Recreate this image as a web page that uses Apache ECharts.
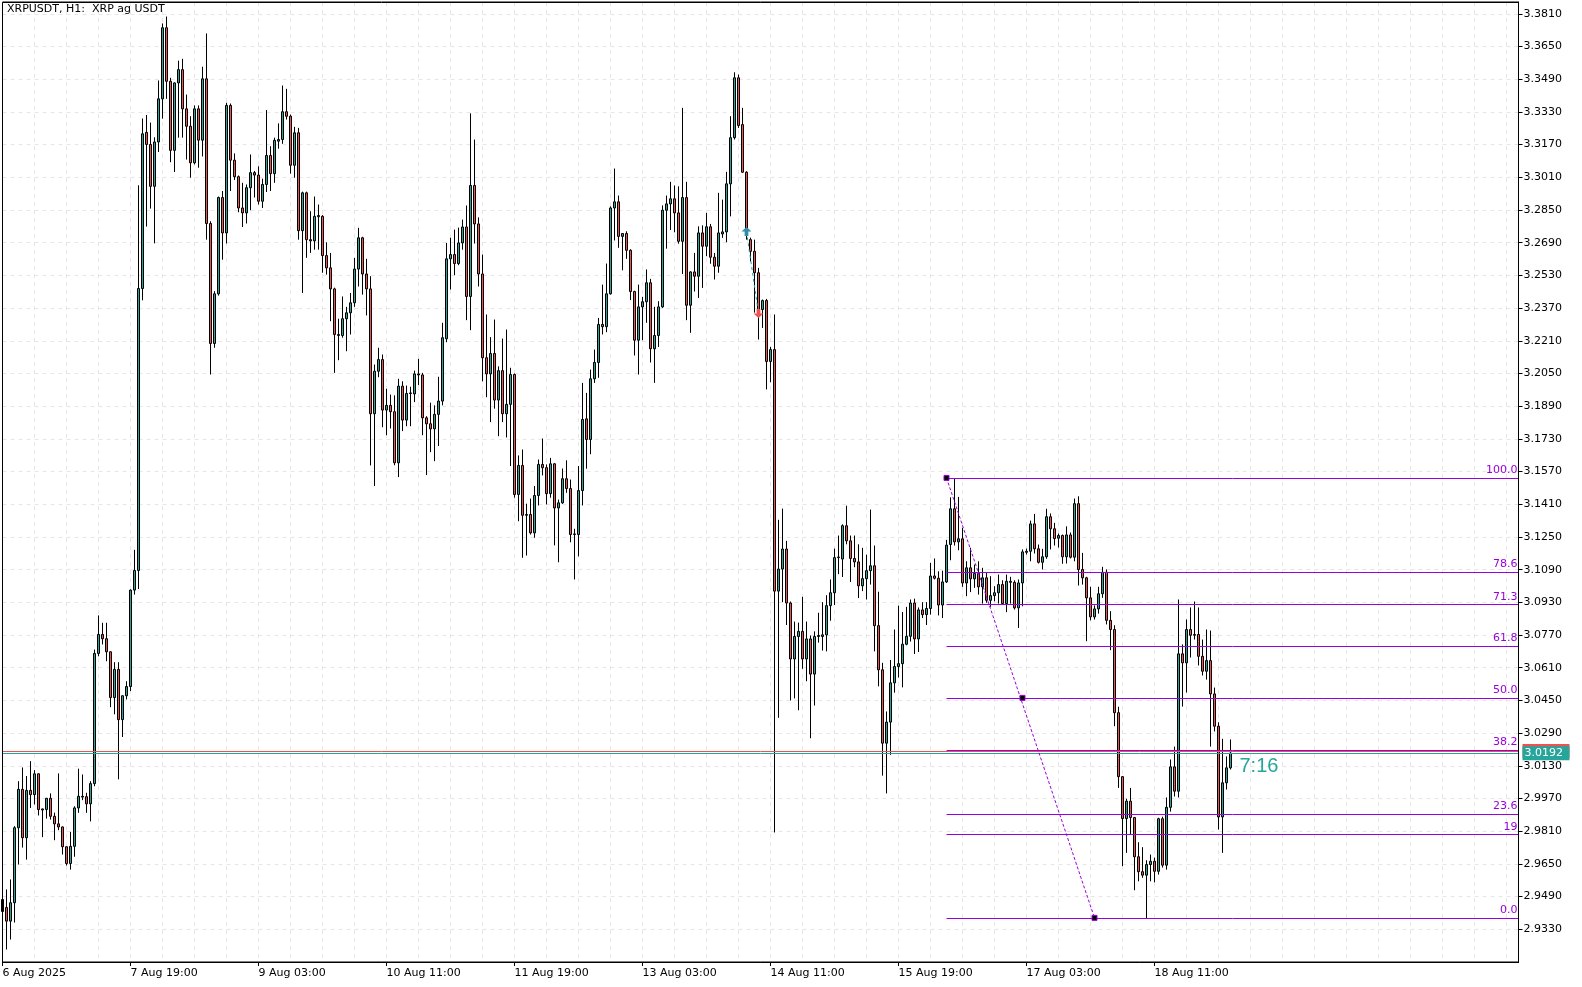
<!DOCTYPE html>
<html>
<head>
<meta charset="utf-8">
<script src="https://cdn.jsdelivr.net/npm/echarts@6/dist/echarts.min.js"></script>
<style>
html,body{margin:0;padding:0;background:#fff;}
#c{width:1582px;height:987px;}
</style>
</head>
<body>
<div id="c"></div>
<script>
// ---------------- data ----------------
const chartTitle = 'XRPUSDT, H1:  XRP ag USDT';
const timeTickLabels = ['6 Aug 2025','7 Aug 19:00','9 Aug 03:00','10 Aug 11:00','11 Aug 19:00','13 Aug 03:00','14 Aug 11:00','15 Aug 19:00','17 Aug 03:00','18 Aug 11:00'];
const barsPerTimeLabel = 32;
const barsPerGridLine = 8;
const totalSlots = 380;

const opens = [
2.9476,2.9437,2.9370,2.9460,2.9827,3.0015,2.9778,3.0010,2.9989,3.0091,
2.9919,2.9916,2.9971,2.9883,2.9846,2.9831,2.9734,2.9652,2.9736,2.9924,
2.9977,2.9979,2.9944,3.0043,3.0680,3.0773,3.0752,3.0688,3.0464,3.0602,
3.0356,3.0473,3.0518,3.0990,3.1086,3.2466,3.3230,3.3171,3.2966,3.3183,
3.3394,3.3742,3.3480,3.3142,3.3472,3.3537,3.3345,3.3260,3.3081,3.3345,
3.3192,3.3492,3.2784,3.2197,3.2440,3.2911,3.2738,3.3362,3.3094,3.3013,
3.2860,3.2836,3.2959,3.3033,3.3021,3.2893,3.2975,3.3117,3.3028,3.3187,
3.3195,3.3331,3.3309,3.3069,3.3228,3.2749,3.2934,3.2705,3.2699,3.2817,
3.2819,3.2627,3.2567,3.2464,3.2236,3.2236,3.2318,3.2347,3.2396,3.2561,
3.2714,3.2537,3.2464,3.1853,3.2061,3.2118,3.1871,3.1894,3.1863,3.1613,
3.1988,3.1822,3.1952,3.1950,3.2048,3.2043,3.1833,3.1804,3.1779,3.1850,
3.1915,3.2220,3.2611,3.2632,3.2588,3.2689,3.2767,3.2427,3.2970,3.2782,
3.2537,3.2127,3.2048,3.2148,3.1920,3.2064,3.1853,3.1899,3.2045,3.1458,
3.1600,3.1356,3.1360,3.1270,3.1453,3.1605,3.1589,3.1462,3.1608,3.1392,
3.1417,3.1535,3.1487,3.1262,3.1262,3.1477,3.1828,3.1727,3.2024,3.2104,
3.2290,3.2279,3.2440,3.2860,3.2890,3.2721,3.2735,3.2653,3.2451,3.2213,
3.2376,3.2401,3.2494,3.2171,3.2236,3.2376,3.2849,3.2880,3.2905,3.2836,
3.2697,3.2911,3.2384,3.2547,3.2526,3.2738,3.2673,3.2768,3.2619,3.2575,
3.2733,3.2743,3.2978,3.3204,3.3497,3.3268,3.3035,3.2705,3.2648,3.2543,
3.2363,3.2407,3.2109,3.2167,3.0985,3.1093,3.1191,3.0927,3.0653,3.0763,
3.0788,3.0653,3.0751,3.0579,3.0763,3.0763,3.0771,3.0914,3.0977,3.1149,
3.1142,3.1305,3.1231,3.1145,3.1128,3.1011,3.1046,3.1085,3.1109,3.0816,
3.0600,3.0241,3.0344,3.0536,3.0616,3.0630,3.0725,3.0764,3.0927,3.0751,
3.0893,3.0870,3.0900,3.1059,3.1048,3.0917,3.1030,3.1213,3.1388,3.1226,
3.1241,3.1025,3.1099,3.1045,3.1071,3.1006,3.1050,3.0940,3.0963,3.0977,
3.1017,3.0924,3.1033,3.1028,3.0903,3.1025,3.1175,3.1180,3.1314,3.1192,
3.1126,3.1153,3.1349,3.1290,3.1244,3.1257,3.1153,3.1260,3.1151,3.1413,
3.1091,3.1050,3.0952,3.0859,3.0898,3.0972,3.1077,3.0842,3.0797,3.0390,
3.0077,2.9872,2.9957,2.9877,2.9685,2.9612,2.9595,2.9647,2.9663,2.9614,
2.9871,2.9644,2.9927,3.0125,3.0006,3.0678,3.0634,3.0797,3.0769,3.0773,
3.0666,3.0593,3.0645,3.0482,3.0324,2.9880,3.0047,3.0120
];
const highs = [
2.9510,2.9525,2.9574,2.9835,3.0055,3.0122,3.0080,3.0153,3.0109,3.0093,
2.9921,2.9973,2.9995,2.9901,3.0093,2.9833,2.9736,2.9807,2.9932,3.0116,
3.0088,2.9998,3.0055,3.0699,3.0866,3.0830,3.0830,3.0690,3.0637,3.0637,
3.0475,3.0544,3.0993,3.1187,3.2971,3.3298,3.3315,3.3278,3.3206,3.3484,
3.3763,3.3797,3.3497,3.3475,3.3581,3.3590,3.3415,3.3309,3.3362,3.3362,
3.3551,3.3714,3.2795,3.2453,3.2916,3.2943,3.3375,3.3371,3.3127,3.3019,
3.2983,3.2975,3.3122,3.3041,3.3064,3.3003,3.3339,3.3162,3.3204,3.3274,
3.3459,3.3443,3.3317,3.3257,3.3252,3.2940,3.2940,3.2844,3.2916,3.2877,
3.2825,3.2692,3.2640,3.2470,3.2318,3.2427,3.2376,3.2444,3.2616,3.2763,
3.2719,3.2611,3.2526,3.2094,3.2176,3.2143,3.1975,3.1947,3.1943,3.2024,
3.2012,3.1991,3.1985,3.2064,3.2122,3.2053,3.1841,3.1907,3.1894,3.2034,
3.2298,3.2689,3.2714,3.2754,3.2764,3.2803,3.2872,3.3323,3.3195,3.2814,
3.2632,3.2339,3.2228,3.2314,3.2085,3.2221,3.2265,3.2078,3.2050,3.1649,
3.1678,3.1413,3.1438,3.1499,3.1629,3.1732,3.1605,3.1637,3.1612,3.1433,
3.1585,3.1625,3.1531,3.1290,3.1597,3.2004,3.1955,3.2069,3.2167,3.2322,
3.2485,3.2588,3.2868,3.3053,3.2921,3.2735,3.2746,3.2658,3.2455,3.2485,
3.2425,3.2559,3.2513,3.2376,3.2404,3.2873,3.2921,3.2988,3.2970,3.2966,
3.3350,3.2988,3.2550,3.2640,3.2770,3.2775,3.2836,3.2782,3.2640,3.2934,
3.2901,3.3037,3.3309,3.3524,3.3513,3.3350,3.3040,3.2715,3.2705,3.2567,
3.2412,3.2415,3.2180,3.2339,3.1334,3.1389,3.1231,3.0934,3.0836,3.0831,
3.0957,3.0836,3.0768,3.0788,3.0879,3.0931,3.0965,3.1042,3.1193,3.1257,
3.1312,3.1403,3.1257,3.1257,3.1214,3.1197,3.1163,3.1384,3.1208,3.0982,
3.0634,3.0396,3.0648,3.0797,3.0914,3.0883,3.0908,3.0944,3.0948,3.0905,
3.0931,3.0931,3.1123,3.1145,3.1082,3.1085,3.1236,3.1444,3.1536,3.1446,
3.1295,3.1131,3.1197,3.1115,3.1131,3.1099,3.1074,3.1058,3.1009,3.1066,
3.1038,3.1066,3.1055,3.1038,3.1042,3.1189,3.1193,3.1330,3.1363,3.1213,
3.1192,3.1388,3.1365,3.1319,3.1267,3.1262,3.1302,3.1272,3.1438,3.1449,
3.1172,3.1055,3.1006,3.0915,3.1006,3.1104,3.1091,3.0887,3.0818,3.0419,
3.0080,2.9969,3.0022,2.9880,2.9756,2.9732,2.9668,2.9696,2.9681,2.9876,
2.9881,2.9975,3.0161,3.0224,3.0944,3.0724,3.0846,3.0905,3.0934,3.0905,
3.0748,3.0797,3.0792,3.0513,3.0343,3.0262,3.0176,3.0259
];
const lows = [
2.9266,2.9231,2.9280,2.9363,2.9647,2.9730,2.9671,2.9924,2.9941,2.9887,
2.9781,2.9872,2.9867,2.9766,2.9815,2.9696,2.9642,2.9622,2.9685,2.9900,
2.9962,2.9900,2.9858,3.0030,3.0666,3.0724,3.0642,3.0417,3.0382,3.0064,
3.0271,3.0455,3.0496,3.0968,3.0995,3.2408,3.2769,3.2857,3.2687,3.3134,
3.3297,3.3394,3.3084,3.3036,3.3204,3.3204,3.3097,3.3008,3.3073,3.3057,
3.3112,3.2705,3.2045,3.2176,3.2431,3.2607,3.2686,3.2943,3.2997,3.2839,
3.2767,3.2784,3.2849,3.2911,3.2877,3.2860,3.2938,3.2943,3.2983,3.3150,
3.3174,3.3293,3.3028,3.3008,3.2705,3.2444,3.2616,3.2640,3.2656,3.2656,
3.2543,3.2534,3.2306,3.2053,3.2115,3.2225,3.2159,3.2241,3.2376,3.2476,
3.2436,3.2334,3.1600,3.1499,3.2032,3.1787,3.1748,3.1781,3.1601,3.1543,
3.1768,3.1792,3.1792,3.1910,3.1993,3.1748,3.1553,3.1665,3.1621,3.1695,
3.1894,3.2203,3.2461,3.2531,3.2580,3.2656,3.2311,3.2262,3.2686,3.2476,
3.2012,3.1934,3.1812,3.1878,3.1743,3.1812,3.1737,3.1597,3.1442,3.1327,
3.1148,3.1159,3.1262,3.1246,3.1404,3.1551,3.1409,3.1442,3.1209,3.1126,
3.1412,3.1466,3.1224,3.1042,3.1155,3.1404,3.1584,3.1655,3.2004,3.2029,
3.2241,3.2252,3.2436,3.2701,3.2665,3.2555,3.2611,3.2409,3.2138,3.2045,
3.2213,3.2298,3.2104,3.2004,3.2180,3.2371,3.2661,3.2752,3.2741,3.2685,
3.2537,3.2311,3.2249,3.2451,3.2420,3.2469,3.2624,3.2587,3.2510,3.2543,
3.2714,3.2692,3.2819,3.3195,3.3252,3.3032,3.2705,3.2598,3.2348,3.2216,
3.2273,3.1972,3.2007,2.9804,3.0365,3.0931,3.0819,3.0450,3.0460,3.0402,
3.0605,3.0544,3.0265,3.0425,3.0733,3.0694,3.0690,3.0840,3.0917,3.1068,
3.1054,3.1214,3.1030,3.1102,3.0951,3.0985,3.0944,3.1017,3.0690,3.0519,
3.0082,2.9995,3.0184,3.0488,3.0562,3.0514,3.0720,3.0738,3.0677,3.0687,
3.0853,3.0819,3.0870,3.1042,3.0866,3.0853,3.1025,3.1136,3.1208,3.1185,
3.1006,3.0960,3.0980,3.1001,3.0968,3.0924,3.0928,3.0908,3.0935,3.0924,
3.0919,3.0882,3.0924,3.0895,3.0805,3.0911,3.1164,3.1131,3.1169,3.1120,
3.1091,3.1143,3.1189,3.1208,3.1198,3.1119,3.1120,3.1145,3.1131,3.1012,
3.1017,3.0740,3.0842,3.0846,3.0875,3.0952,3.0822,3.0696,3.0324,3.0022,
2.9639,2.9704,2.9794,2.9521,2.9565,2.9582,2.9381,2.9565,2.9560,2.9598,
2.9632,2.9622,2.9906,2.9980,2.9975,3.0420,3.0489,3.0660,3.0748,3.0621,
3.0572,3.0552,3.0224,3.0298,2.9818,2.9704,3.0014,3.0112
];
const closes = [
2.9417,2.9370,2.9460,2.9827,3.0015,2.9778,3.0010,2.9989,3.0091,2.9916,
2.9914,2.9971,2.9883,2.9846,2.9831,2.9734,2.9652,2.9736,2.9924,2.9981,
2.9981,2.9944,3.0043,3.0680,3.0773,3.0752,3.0688,3.0464,3.0602,3.0356,
3.0473,3.0518,3.0990,3.1086,3.2466,3.3223,3.3171,3.2966,3.3183,3.3394,
3.3742,3.3480,3.3142,3.3472,3.3537,3.3345,3.3260,3.3081,3.3345,3.3192,
3.3492,3.2784,3.2197,3.2440,3.2911,3.2738,3.3362,3.3094,3.3013,3.2860,
3.2836,3.2959,3.3033,3.3021,3.2893,3.2975,3.3117,3.3028,3.3191,3.3195,
3.3331,3.3309,3.3069,3.3228,3.2749,3.2934,3.2705,3.2699,3.2819,3.2823,
3.2627,3.2567,3.2464,3.2241,3.2241,3.2318,3.2347,3.2396,3.2561,3.2714,
3.2537,3.2464,3.1853,3.2061,3.2118,3.1871,3.1894,3.1863,3.1613,3.1988,
3.1822,3.1952,3.1955,3.2048,3.2043,3.1833,3.1804,3.1779,3.1850,3.1915,
3.2225,3.2611,3.2632,3.2588,3.2689,3.2767,3.2427,3.2970,3.2782,3.2537,
3.2127,3.2048,3.2148,3.1920,3.2064,3.1853,3.1899,3.2045,3.1458,3.1600,
3.1356,3.1360,3.1270,3.1453,3.1605,3.1589,3.1462,3.1608,3.1392,3.1417,
3.1535,3.1487,3.1262,3.1265,3.1477,3.1825,3.1727,3.2024,3.2104,3.2290,
3.2279,3.2440,3.2860,3.2890,3.2721,3.2735,3.2653,3.2451,3.2213,3.2376,
3.2401,3.2494,3.2171,3.2236,3.2376,3.2849,3.2880,3.2905,3.2836,3.2697,
3.2911,3.2384,3.2547,3.2526,3.2738,3.2673,3.2768,3.2619,3.2575,3.2738,
3.2743,3.2978,3.3204,3.3497,3.3264,3.3035,3.2746,3.2648,3.2543,3.2363,
3.2407,3.2109,3.2167,3.0985,3.1093,3.1191,3.0927,3.0653,3.0763,3.0788,
3.0653,3.0751,3.0579,3.0763,3.0768,3.0771,3.0914,3.0977,3.1149,3.1152,
3.1305,3.1231,3.1145,3.1128,3.1011,3.1046,3.1085,3.1109,3.0816,3.0600,
3.0241,3.0344,3.0536,3.0616,3.0630,3.0725,3.0764,3.0927,3.0751,3.0893,
3.0870,3.0900,3.1059,3.1048,3.0917,3.1030,3.1210,3.1388,3.1226,3.1241,
3.1025,3.1099,3.1045,3.1071,3.1006,3.1050,3.0940,3.0963,3.0977,3.1017,
3.0924,3.1033,3.1028,3.0903,3.1025,3.1177,3.1180,3.1314,3.1192,3.1126,
3.1153,3.1349,3.1290,3.1242,3.1257,3.1153,3.1260,3.1151,3.1413,3.1091,
3.1050,3.0952,3.0859,3.0898,3.0972,3.1077,3.0842,3.0797,3.0390,3.0077,
2.9872,2.9957,2.9877,2.9685,2.9612,2.9595,2.9647,2.9663,2.9614,2.9871,
2.9644,2.9927,3.0125,3.0006,3.0678,3.0634,3.0797,3.0769,3.0773,3.0666,
3.0593,3.0645,3.0482,3.0324,2.9880,3.0047,3.0120,3.0192
];

const priceMin = 2.917;
const priceMax = 3.3868;
const priceStep = 0.016;

const bidPrice = 3.0192;
const askPrice = 3.0203;
const barTimer = '7:16';

const fibLevels = [0, 19, 23.6, 38.2, 50, 61.8, 71.3, 78.6, 100];
const fibLabels = ['0.0', '19', '23.6', '38.2', '50.0', '61.8', '71.3', '78.6', '100.0'];
const fibStartIndex = 236;
const fibEndIndex = 273;
const fibHighPrice = 3.1539;
const fibLowPrice = 2.9386;

const buyTrade = {index: 186, price: 3.2745};
const sellTrade = {index: 189, price: 3.2344};

// ---------------- styles / layout ----------------
const FONT = '"DejaVu Sans", Tahoma, sans-serif';
const BULL = '#26a69a';
const BEAR = '#ef5350';
const FIB = '#9a00dc';
const GRID = '#e6e6e6';
const PLOT = {left: 2.5, right: 1518.5, top: 2, bottom: 962};   // target plot box (px)
const W = 1582, H = 987;

const categories = Array.from({length: totalSlots}, (_, i) => String(i));
const candles = opens.map((o, i) => [o, closes[i], lows[i], highs[i]]);
const isTimeTick = (idx) => idx % barsPerTimeLabel === 0 && idx / barsPerTimeLabel < timeTickLabels.length;
const lastSlot = totalSlots - 1;

const fibLines = fibLevels.map((lv, k) => {
  const p = fibLowPrice + (fibHighPrice - fibLowPrice) * lv / 100;
  return [
    {coord: [fibStartIndex, p], lineStyle: {color: FIB, width: 1, type: 'solid'},
     label: {show: true, position: 'insideEndTop', formatter: fibLabels[k], color: FIB, fontSize: 11, fontFamily: FONT, distance: [1, 2]}},
    {coord: [lastSlot, p]}
  ];
});
const fibMid = (fibHighPrice + fibLowPrice) / 2;
const arrowPath = 'path://M4,0 L8,4 L5.5,4 L5.5,8 L2.5,8 L2.5,4 L0,4 Z';

const gridCfg = {
  left: PLOT.left, right: W - PLOT.right, top: PLOT.top, bottom: H - PLOT.bottom,
  containLabel: false, outerBoundsMode: 'none',
  show: true, borderColor: '#000', borderWidth: 1, backgroundColor: '#fff'
};

const chart = echarts.init(document.getElementById('c'), null, {renderer: 'canvas'});
chart.setOption({
  animation: false,
  backgroundColor: '#ffffff',
  textStyle: {fontFamily: FONT},
  grid: gridCfg,
  xAxis: {
    type: 'category', data: categories, boundaryGap: false,
    axisLine: {show: true, lineStyle: {color: '#000', width: 1}},
    axisTick: {show: true, interval: isTimeTick, length: 4, lineStyle: {color: '#000'}},
    axisLabel: {show: true, interval: isTimeTick, formatter: (v) => timeTickLabels[Math.round(Number(v) / barsPerTimeLabel)] || '',
      align: 'left', margin: 6, color: '#000', fontSize: 11, fontFamily: FONT},
    splitLine: {show: true, interval: (idx) => idx > 0 && idx % barsPerGridLine === 0, lineStyle: {color: GRID, width: 1, type: [4, 4]}}
  },
  yAxis: {
    type: 'value', position: 'right', scale: true,
    min: priceMin, max: priceMax, interval: priceStep,
    axisLine: {show: true, lineStyle: {color: '#000', width: 1}},
    axisTick: {show: true, length: 4, lineStyle: {color: '#000'}},
    axisLabel: {show: true, formatter: (v) => v.toFixed(4), showMinLabel: false, showMaxLabel: false,
      margin: 5, color: '#000', fontSize: 11, fontFamily: FONT},
    splitLine: {show: true, lineStyle: {color: GRID, width: 1, type: [4, 4]}}
  },
  series: [{
    type: 'candlestick',
    data: candles,
    barWidth: 2,
    clip: true,
    itemStyle: {color: BULL, color0: BEAR, borderColor: '#000', borderColor0: '#000', borderColorDoji: '#000', borderWidth: 1},
    markLine: {
      silent: true, animation: false, symbol: ['none', 'none'],
      label: {show: false},
      data: [
        [{coord: [0, askPrice], lineStyle: {color: BEAR, width: 1, type: 'solid'}, label: {show: false}}, {coord: [lastSlot, askPrice]}],
        [{coord: [0, bidPrice], lineStyle: {color: BULL, width: 1, type: 'solid'}, label: {show: false}}, {coord: [lastSlot, bidPrice]}],
        ...fibLines,
        [{coord: [fibStartIndex, fibHighPrice], lineStyle: {color: FIB, width: 1, type: [3, 2]}, label: {show: false}},
         {coord: [fibEndIndex, fibLowPrice]}],
        [{coord: [buyTrade.index, buyTrade.price], lineStyle: {color: '#1aa0a8', width: 1, type: [3, 3]}, label: {show: false}},
         {coord: [sellTrade.index, sellTrade.price]}]
      ]
    },
    markPoint: {
      silent: true, animation: false, label: {show: false},
      data: [
        {coord: [fibStartIndex, fibHighPrice], symbol: 'rect', symbolSize: 5, itemStyle: {color: '#000', borderColor: FIB, borderWidth: 1}},
        {coord: [(fibStartIndex + fibEndIndex) / 2, fibMid], symbol: 'rect', symbolSize: 5, itemStyle: {color: '#000', borderColor: FIB, borderWidth: 1}},
        {coord: [fibEndIndex, fibLowPrice], symbol: 'rect', symbolSize: 5, itemStyle: {color: '#000', borderColor: FIB, borderWidth: 1}},
        {coord: [buyTrade.index, buyTrade.price], symbol: arrowPath, symbolSize: [10, 9], itemStyle: {color: '#2f8fa8'}},
        {coord: [sellTrade.index, sellTrade.price], symbol: arrowPath, symbolRotate: 180, symbolSize: [10, 9], itemStyle: {color: BEAR}}
      ]
    }
  }]
});

// make sure the library's scales land on the intended plot box (half-pixel bar centres)
for (let k = 0; k < 3; k++) {
  const xa = chart.convertToPixel({xAxisIndex: 0}, 0);
  const xb = chart.convertToPixel({xAxisIndex: 0}, lastSlot);
  const ya = chart.convertToPixel({yAxisIndex: 0}, priceMax);
  const yb = chart.convertToPixel({yAxisIndex: 0}, priceMin);
  const dl = PLOT.left - xa, dr = xb - PLOT.right, dt = PLOT.top - ya, db = yb - PLOT.bottom;
  if (Math.abs(dl) + Math.abs(dr) + Math.abs(dt) + Math.abs(db) < 0.01) break;
  gridCfg.left += dl; gridCfg.right += dr; gridCfg.top += dt; gridCfg.bottom += db;
  chart.setOption({grid: gridCfg});
}

// overlays positioned through the chart's own scales
const axisX = chart.convertToPixel({xAxisIndex: 0}, lastSlot);
const leftX = chart.convertToPixel({xAxisIndex: 0}, 0);
const topY = chart.convertToPixel({yAxisIndex: 0}, priceMax);
const botY = chart.convertToPixel({yAxisIndex: 0}, priceMin);
const bidY = chart.convertToPixel({yAxisIndex: 0}, bidPrice);
const askY = chart.convertToPixel({yAxisIndex: 0}, askPrice);
const lastX = chart.convertToPixel({xAxisIndex: 0}, opens.length - 1);
chart.setOption({
  graphic: [
    {type: 'rect', silent: true, z: 90,
     shape: {x: Math.floor(leftX) + 0.5, y: Math.floor(topY) + 0.5, width: Math.floor(axisX) - Math.floor(leftX), height: Math.floor(botY) - Math.floor(topY)},
     style: {fill: null, stroke: '#000', lineWidth: 1}},
    {type: 'text', left: 7, top: 4, z: 95, style: {text: chartTitle, fill: '#000', font: '11px ' + FONT}},
    {type: 'rect', shape: {x: axisX + 4, y: askY - 7, width: 47, height: 14}, style: {fill: BEAR}, z: 100},
    {type: 'rect', shape: {x: axisX + 4, y: bidY - 7, width: 47, height: 14}, style: {fill: BULL}, z: 101},
    {type: 'text', x: axisX + 6, y: bidY, style: {text: bidPrice.toFixed(4), fill: '#fff', font: '11px ' + FONT, textVerticalAlign: 'middle', verticalAlign: 'middle'}, z: 102},
    {type: 'text', x: lastX + 9, y: bidY + 13, style: {text: barTimer, fill: BULL, font: '20px "Liberation Sans", Arial, sans-serif', textVerticalAlign: 'middle', verticalAlign: 'middle'}, z: 102}
  ]
});
</script>
</body>
</html>
